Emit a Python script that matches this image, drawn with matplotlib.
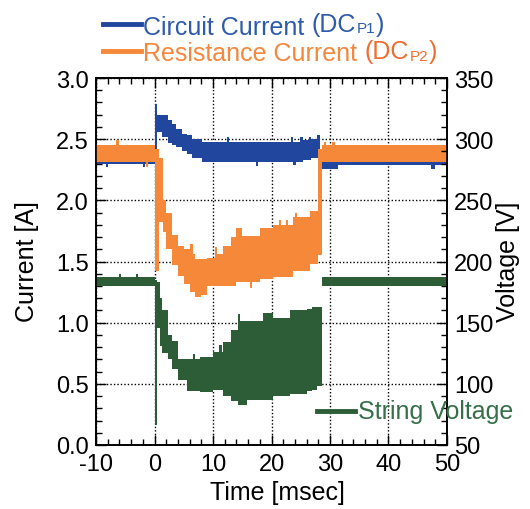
import matplotlib
matplotlib.use("Agg")
import matplotlib.pyplot as plt
from matplotlib.lines import Line2D
from matplotlib.ticker import MultipleLocator

plt.rcParams['font.family'] = ['Liberation Sans', 'DejaVu Sans']
plt.rcParams['axes.unicode_minus'] = False

# ---------------- data (envelopes of the noisy traces) ----
# Circuit current DC_P1 [A]
blue_t  = [-10, -8.3, -7.9, -1.9, -1.6, 0.0, 0.5, 1.3, 2.3, 3.0, 3.6, 4.7, 5.5, 6.4, 8.1,
           12.4, 12.8, 17.3, 17.7, 23.3, 23.7, 24.2, 24.9, 25.3, 26.4, 26.8, 27.7, 28.3,
           28.6, 31.4, 47.3, 48.0, 50.0]
blue_lo = [2.30, 2.27, 2.30, 2.27, 2.30, 2.40, 2.56, 2.52, 2.47, 2.45, 2.44, 2.40, 2.38, 2.35, 2.31,
           2.31, 2.31, 2.28, 2.31, 2.31, 2.29, 2.31, 2.31, 2.33, 2.33, 2.35, 2.35, 2.30,
           2.26, 2.29, 2.26, 2.29, 2.29]
blue_hi = [2.42, 2.42, 2.42, 2.42, 2.42, 2.79, 2.70, 2.70, 2.66, 2.62, 2.58, 2.54, 2.53, 2.50, 2.48,
           2.52, 2.48, 2.48, 2.48, 2.52, 2.48, 2.48, 2.52, 2.49, 2.52, 2.50, 2.53, 2.42,
           2.42, 2.42, 2.42, 2.42, 2.42]

# Resistance current DC_P2 [A]
orange_t  = [-10, -6.5, -6.1, -1.4, -1.1, 0.0, 0.8, 1.5, 2.0, 3.0, 4.0, 5.0, 6.0, 6.5, 7.0, 8.0,
             9.0, 10.3, 10.7, 11.7, 13.0, 14.0, 15.0, 16.3, 16.7, 18.0, 20.3, 21.3, 21.7, 22.5,
             22.9, 23.7, 24.0, 24.4, 26.6, 28.0, 28.6, 29.0, 29.4, 30.4, 30.8, 50.0]
orange_lo = [2.31, 2.31, 2.31, 2.27, 2.31, 1.42, 1.82, 1.74, 1.60, 1.47, 1.38, 1.32, 1.25, 1.25, 1.21, 1.23,
             1.30, 1.30, 1.30, 1.30, 1.30, 1.33, 1.33, 1.28, 1.33, 1.36, 1.37, 1.37, 1.37, 1.37,
             1.37, 1.42, 1.42, 1.42, 1.48, 1.55, 2.31, 2.31, 2.31, 2.31, 2.31, 2.31]
orange_hi = [2.45, 2.49, 2.45, 2.45, 2.45, 2.42, 2.35, 2.00, 1.90, 1.72, 1.63, 1.60, 1.64, 1.56, 1.52, 1.52,
             1.53, 1.62, 1.56, 1.63, 1.70, 1.77, 1.71, 1.71, 1.71, 1.77, 1.80, 1.84, 1.80, 1.84,
             1.80, 1.86, 1.90, 1.86, 1.91, 2.42, 2.45, 2.48, 2.45, 2.48, 2.45, 2.45]

# String voltage [V]
green_t  = [-10, -6.1, -5.7, -3.2, -2.8, 0.0, 0.4, 1.0, 1.3, 2.3, 3.0, 4.0, 5.5, 6.6, 7.0, 7.8,
            10.0, 11.1, 11.5, 11.7, 13.0, 14.2, 14.7, 15.8, 18.6, 20.3, 23.2, 26.0, 27.0, 27.8,
            28.6, 50.0]
green_lo = [180, 180, 180, 180, 180, 66, 146, 131, 125, 120, 112, 103, 94, 94, 94, 93,
            95, 95, 95, 90, 86, 83, 83, 87, 87, 90, 92, 94, 95, 98,
            180, 180]
green_hi = [187, 190, 187, 190, 187, 185, 183, 170, 160, 140, 135, 120, 120, 124, 120, 122,
            126, 132, 126, 134, 144, 157, 151, 151, 158, 154, 160, 161, 163, 163,
            187, 187]

x_ticks = [-10, 0, 10, 20, 30, 40, 50]
yl_ticks = [0.0, 0.5, 1.0, 1.5, 2.0, 2.5, 3.0]
yr_ticks = [50, 100, 150, 200, 250, 300, 350]

# ---------------- style ----------------
C_BLUE = '#21469E'
C_ORANGE = '#F58939'
C_GREEN = '#2C5D37'
C_BLUE_TXT = '#2E5BAA'
C_ORANGE_TXT = '#F5873C'
C_ORANGE_TXT2 = '#EF6D30'
C_GREEN_TXT = '#35704A'

FS_TICK = 17
FS_TXT = 18
FS_SUB = 11

W, H = 530, 510
fig = plt.figure(figsize=(W / 100, H / 100), dpi=100)
ax = fig.add_axes([96 / W, 1 - 446 / H, (447 - 96) / W, (446 - 79) / H])
ax2 = ax.twinx()

ax2.fill_between(green_t, green_lo, green_hi, step='post', color=C_GREEN, lw=0, zorder=2)
ax.fill_between(blue_t, blue_lo, blue_hi, step='post', color=C_BLUE, lw=0, zorder=2)
ax.fill_between(orange_t, orange_lo, orange_hi, step='post', color=C_ORANGE, lw=0, zorder=3)

ax.set_xlim(-10, 50)
ax.set_ylim(0, 3)
ax2.set_ylim(50, 350)
ax.set_xticks(x_ticks)
ax.set_yticks(yl_ticks)
ax.set_yticklabels([f"{v:.1f}" for v in yl_ticks])
ax2.set_yticks(yr_ticks)
ax.xaxis.set_minor_locator(MultipleLocator(2))
ax.yaxis.set_minor_locator(MultipleLocator(0.1))
ax2.yaxis.set_minor_locator(MultipleLocator(10))

ax.grid(True, which='major', color='black', linestyle=(0, (1, 1.5)), linewidth=1.0)
ax.set_axisbelow(True)

ax.tick_params(axis='x', which='major', pad=6)
ax.tick_params(axis='y', which='major', pad=5)
ax.tick_params(axis='both', which='major', direction='in', length=7, width=1,
               labelsize=FS_TICK, top=True, right=False)
ax.tick_params(axis='both', which='minor', direction='in', length=4, width=1,
               top=True, right=False)
ax2.tick_params(axis='y', which='major', direction='in', length=7, width=1,
                labelsize=FS_TICK, pad=5)
ax2.tick_params(axis='y', which='minor', direction='in', length=4, width=1)
for a in (ax, ax2):
    for s in a.spines.values():
        s.set_linewidth(1.2)


def fx(px):
    return px / W


def fy(py):
    return 1 - py / H


# axis labels
fig.text(fx(27), fy(262), 'Current [A]', rotation=90, ha='center', va='center', fontsize=FS_TXT)
fig.text(fx(508), fy(262), 'Voltage [V]', rotation=90, ha='center', va='center', fontsize=FS_TXT)
fig.text(fx(277), fy(493), 'Time [msec]', ha='center', va='center', fontsize=FS_TXT)

renderer = fig.canvas.get_renderer()


def chain(x0, base_y, pieces):
    """Place text pieces one after another (pieces: text, size, dy, gap, color)."""
    x = x0
    for txt, size, dy, gap, col in pieces:
        x += gap
        t = fig.text(fx(x), fy(base_y + dy), txt, color=col, fontsize=size, va='baseline')
        bb = t.get_window_extent(renderer)
        x += bb.width


# legend entries (manual)
fig.add_artist(Line2D([fx(103), fx(141)], [fy(25), fy(25)], color=C_BLUE, lw=3.5))
chain(143, 35, [('Circuit Current', FS_TXT, 0, 0, C_BLUE_TXT),
                ('(DC', FS_TXT, -3, 7, C_BLUE_TXT),
                ('P1', FS_SUB, -2, 1, C_BLUE_TXT),
                (')', FS_TXT, -3, 1, C_BLUE_TXT)])

fig.add_artist(Line2D([fx(103), fx(141)], [fy(52), fy(52)], color=C_ORANGE, lw=3.5))
chain(143, 61, [('Resistance Current', FS_TXT, 0, 0, C_ORANGE_TXT),
                ('(DC', FS_TXT, -2, 7, C_ORANGE_TXT2),
                ('P2', FS_SUB, 0, 1, C_ORANGE_TXT2),
                (')', FS_TXT, -2, 1, C_ORANGE_TXT2)])

fig.add_artist(Line2D([fx(317), fx(355)], [fy(412), fy(412)], color=C_GREEN, lw=3.5))
fig.text(fx(358), fy(419), 'String Voltage', color=C_GREEN_TXT, fontsize=FS_TXT, va='baseline')

fig.savefig('out.png', dpi=100)
